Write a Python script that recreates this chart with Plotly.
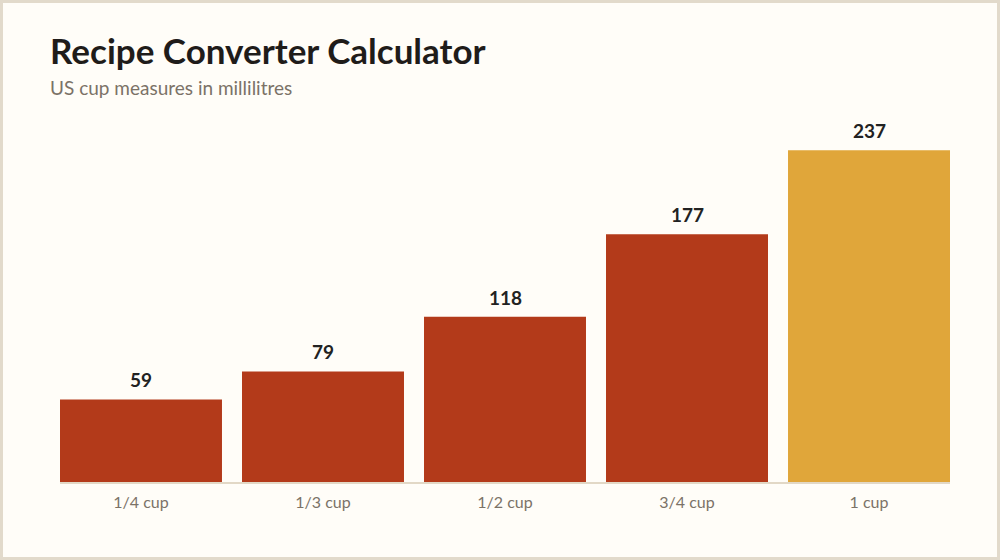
import plotly.graph_objects as go

categories = ["1/4 cup", "1/3 cup", "1/2 cup", "3/4 cup", "1 cup"]
values_ml = [59, 79, 118, 177, 237]
bar_colors = ["#b33a1a", "#b33a1a", "#b33a1a", "#b33a1a", "#e0a63a"]

W, H = 1000, 560
ML, MR, MT, MB = 60, 50, 120, 78
PW, PH = W - ML - MR, H - MT - MB

def px_x(x):
    return (x - ML) / PW

def px_y(y):
    return (H - MB - y) / PH

fig = go.Figure()
fig.add_trace(go.Bar(
    x=list(range(len(categories))),
    y=values_ml,
    marker=dict(color=bar_colors, line=dict(width=0)),
    hoverinfo="skip",
))

for i, v in enumerate(values_ml):
    fig.add_annotation(
        x=i, y=v, xref="x", yref="y", text=f"<b>{v}</b>", showarrow=False,
        yanchor="bottom", yshift=6,
        font=dict(family="Lato", size=19, color="#222222"),
    )

fig.add_annotation(
    x=px_x(50), y=px_y(27), xref="paper", yref="paper", xanchor="left", yanchor="top",
    xshift=-2,
    text="<b>Recipe Converter Calculator</b>", showarrow=False,
    font=dict(family="Lato", size=35, color="#1f1c1a"),
)
fig.add_annotation(
    x=px_x(50), y=px_y(74), xref="paper", yref="paper", xanchor="left", yanchor="top",
    xshift=-2,
    text="US cup measures in millilitres", showarrow=False,
    font=dict(family="Lato", size=19, color="#7b7267"),
)

fig.add_shape(
    type="rect", xref="paper", yref="paper",
    x0=px_x(1.5), x1=px_x(998.5), y0=px_y(558.5), y1=px_y(1.5),
    line=dict(color="#e2dacb", width=3), fillcolor="rgba(0,0,0,0)", layer="above",
)

fig.update_layout(
    width=W, height=H,
    margin=dict(l=ML, r=MR, t=MT, b=MB, pad=0),
    paper_bgcolor="#fffdf8", plot_bgcolor="#fffdf8",
    showlegend=False,
    bargap=0.11,
    xaxis=dict(
        range=[-0.445, 4.445], tickmode="array", tickvals=list(range(len(categories))),
        ticktext=categories, showgrid=False, zeroline=False,
        showline=True, linecolor="#e2d8c6", linewidth=2, ticks="", ticklen=0,
        ticklabelstandoff=5,
        tickfont=dict(family="Lato", size=16, color="#7b7267"),
        fixedrange=True,
    ),
    yaxis=dict(
        range=[0, PH / 1.4], showgrid=False, zeroline=False, showline=False,
        showticklabels=False, fixedrange=True,
    ),
)

fig.write_html("out.html", config={"displayModeBar": False})
